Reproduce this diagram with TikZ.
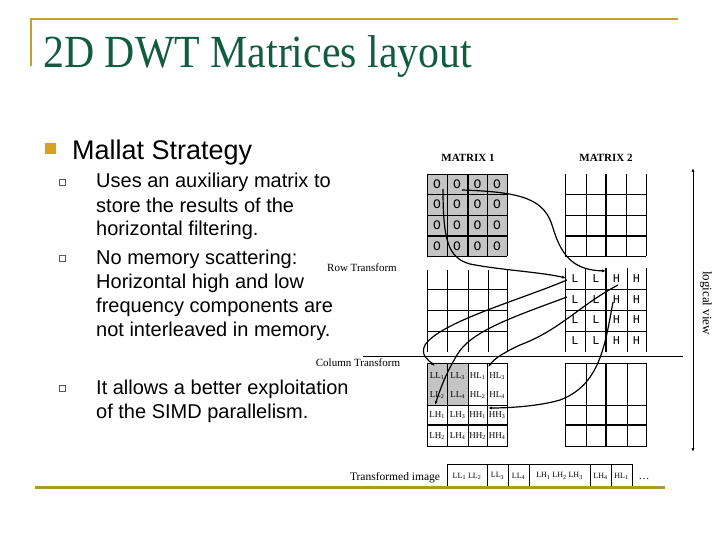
\documentclass[tikz,border=0pt]{standalone}
\usepackage{fontspec}
\setmainfont{Liberation Serif}
\setsansfont{Liberation Sans}
\setmonofont{Liberation Mono}
\usetikzlibrary{arrows.meta}
\definecolor{goldline}{RGB}{196,160,52}
\definecolor{oliveline}{RGB}{176,150,50}
\definecolor{titlegreen}{RGB}{18,92,62}
\definecolor{bulletgold}{RGB}{212,162,32}
\definecolor{cellgray}{RGB}{196,196,196}
\tikzset{
  gridline/.style={line width=0.9pt},
  thickline/.style={line width=2pt},
  curve/.style={line width=1.2pt, -{Latex[length=4pt,width=3pt]}},
  bodytext/.style={anchor=base west, inner sep=0pt, font=\sffamily\fontsize{20}{24}\selectfont},
  subbullet/.style={draw=gray!70!black, line width=0.7pt, minimum size=6pt, inner sep=0pt},
  lab/.style={inner sep=0pt, font=\fontsize{11}{13}\selectfont},
  mono/.style={inner sep=0pt, font=\ttfamily\fontsize{12}{14}\selectfont},
  small/.style={inner sep=0pt, font=\fontsize{9}{10}\selectfont},
  tiny/.style={inner sep=0pt, font=\fontsize{8}{9}\selectfont}
}
\begin{document}
\begin{tikzpicture}[x=1pt,y=-1pt]
\useasboundingbox (0,0) rectangle (720,540);
% title area
\draw[goldline, line width=2.5pt] (31,66) -- (31,19) -- (678,19);
\node[anchor=base west, inner sep=0pt, text=titlegreen, font=\fontsize{46}{50}\selectfont] (title) at (43,68) {\scalebox{0.91}[1]{2D DWT Matrices layout}};
% bullets
\fill[bulletgold] (45,143) rectangle (56,154);
\node[anchor=base west, inner sep=0pt, font=\sffamily\fontsize{27}{30}\selectfont] (mallat) at (72,160) {Mallat Strategy};
\node[subbullet] (b1) at (62,182) {};
\node[subbullet] (b2) at (62,258) {};
\node[subbullet] (b3) at (62,388) {};
\node[bodytext] (t1) at (96,188) {Uses an auxiliary matrix to};
\node[bodytext] (t2) at (96,212) {store the results of the};
\node[bodytext] (t3) at (96,236) {horizontal filtering.};
\node[bodytext] (t4) at (96,264) {No memory scattering:};
\node[bodytext] (t5) at (96,288) {Horizontal high and low};
\node[bodytext] (t6) at (96,312) {frequency components are};
\node[bodytext] (t7) at (96,336) {not interleaved in memory.};
\node[bodytext] (t8) at (96,394) {It allows a better exploitation};
\node[bodytext] (t9) at (96,418) {of the SIMD parallelism.};
% labels
\node[lab, font=\bfseries\fontsize{11}{13}\selectfont] (m1) at (468,158) {MATRIX 1};
\node[lab, font=\bfseries\fontsize{11}{13}\selectfont] (m2) at (606,158) {MATRIX 2};
\node[lab] (rowt) at (362,268) {Row Transform};
\node[lab] (colt) at (358,363) {Column Transform};
\node[lab, font=\fontsize{13}{15}\selectfont, rotate=-90] (lv) at (706,303) {logical view};
% matrix 1 (gray)
\fill[cellgray] (427,174) rectangle (507,256);
\foreach \x in {427,447,487,507} \draw[gridline] (\x,174) -- (\x,256);
\draw[thickline] (468,174) -- (468,256);
\foreach \y in {174,194,215,256} \draw[gridline] (427,\y) -- (507,\y);
\draw[thickline] (427,236) -- (507,236);
\foreach \x in {437,457,477.5,497} \foreach \y in {184,204.5,225.5,246}
  \node[mono, font=\ttfamily\fontsize{13}{15}\selectfont] at (\x,\y) {O};
% matrix 2 top
\foreach \x in {565,586,626,646} \draw[gridline] (\x,174) -- (\x,256);
\draw[thickline] (606,174) -- (606,256);
\foreach \y in {194,215,256} \draw[gridline] (565,\y) -- (646,\y);
\draw[thickline] (565,236) -- (646,236);
% row transform left
\foreach \x in {427,447,468,488,507} \draw[gridline] (\x,270) -- (\x,352);
\foreach \y in {289,310,331} \draw[gridline] (427,\y) -- (507,\y);
% row transform right
\foreach \x in {565,585,627,646} \draw[gridline] (\x,268) -- (\x,352);
\draw[thickline] (606,268) -- (606,352);
\foreach \y in {289,310,331} \draw[gridline] (565,\y) -- (646,\y);
\foreach \y in {279,300,320,341} {
  \node[mono] at (575,\y) {L};
  \node[mono] at (596,\y) {L};
  \node[mono] at (616.5,\y) {H};
  \node[mono] at (636.5,\y) {H};
}
% separator line
\draw[line width=0.9pt] (363,356) -- (683,356);
% bottom left matrix
\fill[cellgray] (427,363) rectangle (468,405);
\draw[gridline] (427,363) rectangle (507,446);
\foreach \x in {447,468,487} \draw[gridline] (\x,363) -- (\x,446);
\draw[gridline] (427,405) -- (507,405);
\draw[thickline] (427,425) -- (507,425);
\node[small] at (437,376) {LL\textsubscript{1}};
\node[small] at (457.5,376) {LL\textsubscript{3}};
\node[small] at (477.5,376) {HL\textsubscript{1}};
\node[small] at (497,376) {HL\textsubscript{3}};
\node[small] at (437,395) {LL\textsubscript{2}};
\node[small] at (457.5,395) {LL\textsubscript{4}};
\node[small] at (477.5,395) {HL\textsubscript{2}};
\node[small] at (497,395) {HL\textsubscript{4}};
\node[small] at (437,415) {LH\textsubscript{1}};
\node[small] at (457.5,415) {LH\textsubscript{3}};
\node[small] at (477.5,415) {HH\textsubscript{1}};
\node[small] at (497,415) {HH\textsubscript{3}};
\node[small] at (437,436) {LH\textsubscript{2}};
\node[small] at (457.5,436) {LH\textsubscript{4}};
\node[small] at (477.5,436) {HH\textsubscript{2}};
\node[small] at (497,436) {HH\textsubscript{4}};
% bottom right matrix
\draw[gridline] (565,363) rectangle (646,446);
\foreach \x in {586,627} \draw[gridline] (\x,363) -- (\x,446);
\draw[thickline] (606,363) -- (606,446);
\draw[gridline] (565,405) -- (646,405);
\draw[thickline] (565,425) -- (646,425);
% logical view arrow
\coordinate (lvtop) at (693,168);
\coordinate (lvbot) at (693,452);
\draw[line width=0.9pt, {Latex[length=4pt,width=3pt]}-{Latex[length=4pt,width=3pt]}] (lvtop) -- (lvbot);
% transformed image strip
\node[lab, font=\fontsize{11.5}{13}\selectfont] (timg) at (395,478) {Transformed image};
\draw[gridline] (447,487) -- (447,464) -- (632,464) -- (632,487);
\foreach \x in {487,508,529,590,611} \draw[gridline] (\x,464) -- (\x,487);
\node[tiny] at (467,476) {LL\textsubscript{1} LL\textsubscript{2}};
\node[tiny] at (497.5,476) {LL\textsubscript{3}};
\node[tiny] at (518.5,476) {LL\textsubscript{4}};
\node[tiny] at (559.5,476) {LH\textsubscript{1} LH\textsubscript{2} LH\textsubscript{3}};
\node[tiny] at (600.5,476) {LH\textsubscript{4}};
\node[tiny] at (621.5,476) {HL\textsubscript{1}};
\node[lab] (dots) at (644,479) {\dots};
\draw[oliveline, line width=3pt] (35,487) -- (665,487);
% connectors
\coordinate (s1) at (443,189);
\coordinate (e1) at (566,278);
\coordinate (s2) at (462,190);
\coordinate (e2) at (606,271);
\coordinate (s3) at (567,280);
\coordinate (e3) at (435,366);
\coordinate (s4) at (567,297);
\coordinate (e4) at (435,405);
\coordinate (s5) at (618,285);
\coordinate (e5) at (488,367);
\coordinate (s6) at (613,302);
\coordinate (e6) at (488,408);
\draw[curve] (s1) .. controls (443,240) and (448,258) .. (470,264) .. controls (500,270) and (540,272) .. (e1);
\draw[curve] (s2) .. controls (525,192) and (545,200) .. (553,228) .. controls (562,258) and (575,270) .. (e2);
\draw[curve] (s3) .. controls (520,300) and (440,322) .. (425,345) .. controls (420,355) and (428,360) .. (e3);
\draw[curve] (s4) .. controls (510,318) and (470,332) .. (457,355) .. controls (445,375) and (440,390) .. (e4);
\draw[curve] (s5) .. controls (580,305) and (560,330) .. (520,345) .. controls (505,352) and (495,358) .. (e5);
\draw[curve] (s6) .. controls (605,345) and (600,385) .. (560,400) .. controls (540,406) and (510,408) .. (e6);
\end{tikzpicture}
\end{document}
